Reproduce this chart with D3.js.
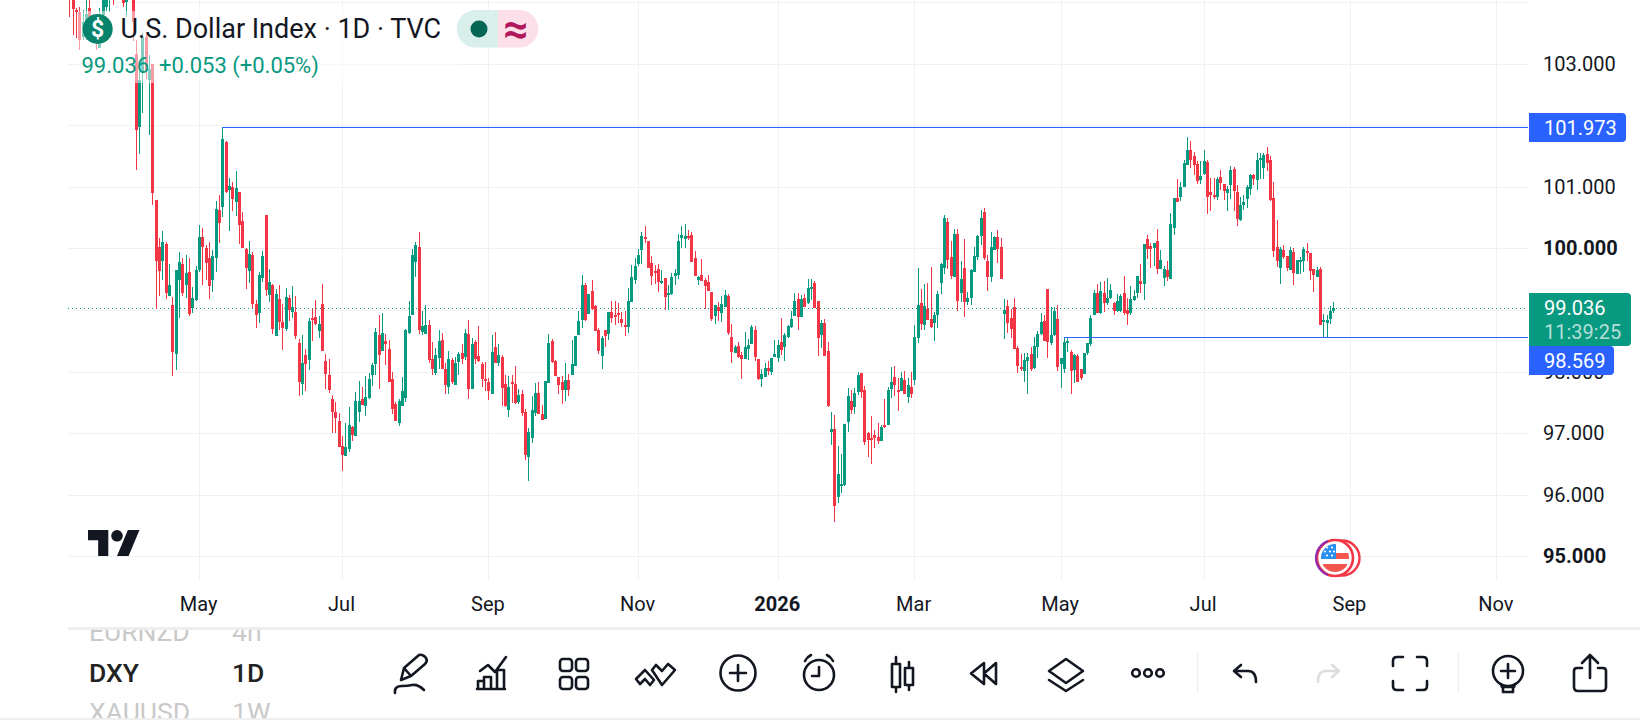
<!DOCTYPE html>
<html lang="en">
<head>
    <meta charset="UTF-8">
    <title>U.S. Dollar Index 1D</title>
    <script src="https://d3js.org/d3.v7.min.js"></script>
    <style>
        body { margin: 0; background-color: #fff; font-family: Roboto, Arial, sans-serif; }
        svg { display: block; }
        .grid line { stroke: #f0f1f3; stroke-width: 1; shape-rendering: crispEdges; }
        .axis text { font-family: Roboto, Arial, sans-serif; font-size: 20px; fill: #131722; }
        .axis path, .axis line { display: none; }
        .icon { fill: none; stroke: #131722; stroke-width: 2.6; stroke-linecap: round; stroke-linejoin: round; }
    </style>
</head>
<body>
    <div id="chart"></div>

    <script>
        // values, one bar per trading day, ten per line
        const opens = [
            104.5,104.6,103.87,103.83,103.43,103.49,103.9,103.45,103.6,103.26,
            103.79,103.92,104.1,104.35,104.4,104.5,104.3,104.0,104.25,104.4,
            103.15,101.97,102.84,103.43,102.73,102.99,100.78,100.02,99.8,100.07,
            99.23,99.08,98.29,99.48,99.75,99.41,99.62,99.04,99.16,99.65,
            100.19,100.0,99.84,99.49,99.84,100.63,100.67,101.73,100.95,100.99,
            100.75,100.92,100.44,99.99,99.63,99.89,99.1,98.95,99.52,100.54,
            99.24,99.41,98.58,99.18,98.81,98.69,99.19,98.97,98.97,98.46,
            97.8,98.27,98.19,98.87,98.89,98.66,99.1,98.17,97.95,97.55,
            97.34,97.2,96.79,96.63,96.74,97.1,96.95,97.34,97.55,97.44,
            97.57,97.94,98.12,98.59,98.33,98.5,98.37,97.88,97.47,97.17,
            97.44,97.57,98.63,98.92,99.78,100.02,98.64,98.61,98.76,98.2,
            97.98,98.22,98.51,98.04,97.75,98.19,97.78,98.15,98.3,98.24,
            98.61,97.72,98.48,98.25,98.12,97.88,97.83,97.64,98.4,98.14,
            98.24,97.8,97.38,97.83,97.8,97.51,97.64,97.34,96.61,96.92,
            97.33,97.65,97.31,97.23,97.82,98.5,98.17,97.91,97.83,97.7,
            97.86,97.95,98.09,98.59,98.84,99.41,98.93,99.31,99.07,98.67,
            98.25,98.67,98.61,98.97,98.92,98.95,98.85,98.76,98.72,99.13,
            99.49,99.75,99.97,100.19,100.12,99.76,99.63,99.67,99.45,99.52,
            99.24,99.26,99.55,99.57,100.17,100.15,100.2,100.22,99.84,99.49,
            99.57,99.49,99.45,99.29,98.9,99.05,98.95,99.05,99.23,98.56,
            98.3,98.42,98.27,98.2,98.37,98.45,98.67,98.2,97.88,97.91,
            98.06,98.0,98.24,98.22,98.48,98.4,98.56,98.72,98.9,99.18,
            98.89,99.19,99.11,99.36,99.44,99.15,98.59,98.79,98.33,97.02,
            97.07,95.96,96.16,96.16,97.18,97.52,97.43,97.67,97.98,97.7,
            97.0,96.92,96.97,96.94,96.87,97.13,97.13,97.72,97.91,97.7,
            97.69,97.86,97.59,97.75,97.86,98.54,99.11,98.75,99.02,98.85,
            98.79,98.92,99.44,99.68,100.43,99.86,99.53,100.23,99.27,99.68,
            99.13,99.19,99.62,99.86,100.2,100.59,99.79,99.53,99.97,100.18,
            100.02,98.93,99.06,98.87,99.05,98.38,98.07,98.01,98.17,98.29,
            98.06,98.4,98.61,98.82,99.34,98.46,98.59,98.85,98.12,98.04,
            98.46,98.32,98.03,98.25,98.04,97.96,98.3,98.45,98.92,99.27,
            98.95,99.27,99.11,99.19,99.11,98.98,98.98,99.28,99.0,98.95,
            99.16,99.28,99.47,99.42,100.15,100.04,100.01,100.12,99.67,99.52,
            99.65,99.5,100.33,100.82,100.83,101.0,101.35,101.6,101.5,101.37,
            101.11,101.21,101.4,100.91,100.87,100.83,101.16,101.05,100.9,101.03,
            101.29,100.91,100.46,100.7,100.8,100.96,101.19,101.11,101.43,101.3,
            101.53,101.44,100.82,100.02,99.68,99.97,99.88,99.65,99.94,99.58,
            99.8,99.8,99.96,99.92,99.67,99.54,99.67,98.82,98.79,98.85,98.983
        ];
        const highs = [
            104.6,104.8,103.9,103.92,103.87,104.1,104.1,103.8,103.75,103.9,
            104.3,104.4,104.4,104.5,104.7,104.6,104.4,104.3,104.5,104.5,
            103.38,103.0,103.5,103.5,103.14,103.0,100.78,100.17,100.28,100.1,
            99.75,99.21,99.65,99.94,99.84,99.89,99.84,99.37,99.71,100.38,
            100.33,100.06,100.1,99.97,100.77,100.86,101.973,101.75,101.14,101.07,
            101.25,100.92,100.59,100.0,100.12,99.94,99.16,99.62,99.96,100.54,
            99.67,99.42,99.34,99.41,99.1,99.36,99.24,99.39,99.23,98.53,
            98.59,98.37,98.87,99.02,99.16,98.9,99.42,98.29,98.21,97.62,
            97.51,97.33,96.95,97.17,97.43,97.12,97.67,97.85,97.75,97.93,
            97.98,98.14,98.71,98.92,98.95,98.61,98.51,98.0,97.5,97.55,
            97.91,98.69,99.15,99.99,100.1,100.27,98.98,99.08,98.84,98.48,
            98.38,98.67,98.63,98.14,98.33,98.22,98.24,98.32,98.45,98.69,
            98.84,98.55,98.52,98.74,98.16,98.15,97.9,98.59,98.64,98.45,
            98.27,97.94,97.93,97.94,98.09,97.72,97.7,97.39,97.08,97.6,
            97.81,97.83,97.46,97.85,98.61,98.53,98.19,97.91,97.93,98.14,
            97.96,98.51,98.58,98.98,99.57,99.44,99.26,99.49,99.08,98.71,
            98.58,98.67,98.97,99.15,99.15,99.11,98.97,98.98,99.36,99.73,
            99.84,99.99,100.27,100.36,100.12,99.88,99.73,99.75,99.65,99.52,
            99.41,99.6,99.66,100.23,100.36,100.4,100.3,100.27,99.96,99.56,
            99.83,99.52,99.57,99.29,99.08,99.13,99.23,99.32,99.26,98.77,
            98.43,98.48,98.32,98.64,98.53,98.76,98.74,98.2,98.04,98.14,
            98.18,98.22,98.51,98.51,98.87,98.63,98.76,98.98,99.28,99.28,
            99.24,99.26,99.5,99.5,99.47,99.15,98.84,98.85,98.48,97.34,
            97.29,96.79,96.66,97.15,97.73,97.7,97.73,97.99,97.98,97.77,
            97.02,97.28,97.05,97.17,97.13,97.55,97.75,98.07,98.09,97.9,
            97.99,98.01,97.9,97.99,98.76,99.68,99.34,99.42,99.44,99.7,
            98.97,99.31,99.76,100.54,100.49,100.12,100.31,100.31,99.8,100.15,
            99.3,99.66,100.02,100.22,100.62,100.66,99.89,100.27,100.2,100.3,
            100.17,99.18,99.16,99.02,99.19,98.42,98.29,98.3,98.3,98.4,
            98.56,98.66,98.95,98.92,99.34,99.05,99.05,99.08,98.22,98.54,
            98.56,98.35,98.29,98.29,98.04,98.3,98.46,98.92,99.32,99.42,
            99.45,99.47,99.52,99.42,99.13,99.26,99.26,99.55,99.19,99.39,
            99.32,99.55,99.75,100.07,100.22,100.09,100.09,100.31,99.97,99.71,
            99.79,100.57,100.82,101.13,101.08,101.43,101.81,101.74,101.56,101.42,
            101.42,101.6,101.43,101.14,101.14,101.16,101.27,101.05,101.01,101.34,
            101.32,101.03,100.83,100.87,101.03,101.21,101.21,101.55,101.55,101.55,
            101.65,101.5,101.08,100.46,100.02,100.05,99.88,100.02,100.0,99.81,
            99.86,100.02,100.09,99.92,99.67,99.7,99.7,98.93,98.92,99.06,99.13
        ];
        const lows = [
            103.76,103.46,103.41,103.22,103.38,103.38,103.4,103.35,103.22,103.25,
            103.7,103.85,103.84,103.95,104.25,104.2,103.92,103.76,104.1,103.37,
            101.27,101.54,102.19,102.75,101.84,100.7,99.02,99.22,99.49,99.18,
            99.23,97.93,98.03,98.87,99.23,99.2,98.9,98.95,99.15,99.62,
            99.41,99.49,99.18,99.29,99.62,100.09,100.51,100.9,100.29,100.6,
            100.53,100.07,100.0,99.34,99.44,99.03,98.71,98.79,99.45,99.23,
            99.13,98.61,98.58,98.68,98.35,98.66,98.82,98.87,98.53,97.6,
            97.62,97.69,98.03,98.5,98.76,98.55,98.33,97.72,97.65,97.0,
            97.0,96.78,96.39,96.63,96.69,96.87,96.95,97.18,97.46,97.28,
            97.55,97.77,97.95,97.72,98.33,98.11,97.83,97.31,97.2,97.12,
            97.44,97.51,98.61,98.92,99.54,98.61,98.59,98.61,98.14,97.95,
            97.95,98.04,98.04,97.64,97.64,97.8,97.78,97.95,98.12,98.19,
            97.56,97.72,98.12,98.16,97.75,97.68,97.54,97.64,98.14,98.09,
            97.44,97.43,97.26,97.49,97.47,97.48,97.28,96.57,96.23,96.84,
            97.28,97.31,97.21,97.23,97.82,98.14,97.93,97.64,97.47,97.52,
            97.6,97.95,98.09,98.59,98.71,98.82,98.93,99.0,98.66,98.29,
            98.04,98.4,98.51,98.79,98.76,98.79,98.72,98.58,98.63,99.13,
            99.42,99.71,99.75,100.09,99.68,99.41,99.42,99.29,99.43,99.0,
            99.0,99.25,99.41,99.5,100.0,100.0,100.13,99.78,99.55,99.41,
            99.47,99.02,99.31,98.82,98.77,98.82,98.8,99.05,98.6,98.14,
            98.3,98.22,97.88,98.2,98.19,98.44,98.17,97.86,97.75,97.91,
            97.95,97.95,98.23,98.15,98.27,98.17,98.55,98.71,98.9,98.67,
            98.88,99.05,99.1,99.16,99.03,98.25,98.38,98.25,97.43,96.81,
            95.56,95.87,96.03,96.15,97.02,97.31,97.31,97.62,97.57,96.81,
            96.61,96.5,96.76,96.82,96.87,97.08,97.13,97.57,97.6,97.36,
            97.68,97.64,97.49,97.57,97.78,98.46,98.67,98.67,98.84,98.71,
            98.5,98.71,99.26,99.58,99.67,99.5,99.53,98.98,99.13,98.89,
            99.08,99.08,99.61,99.81,100.05,99.81,99.31,99.45,99.97,99.76,
            99.5,98.53,98.63,98.55,98.37,97.98,98.01,97.83,97.64,98.01,
            98.05,98.22,98.6,98.5,98.22,98.43,98.58,98.01,97.73,97.98,
            98.32,97.64,97.81,97.83,97.86,97.96,98.27,98.42,98.92,98.95,
            98.94,98.97,99.08,99.18,98.92,98.97,98.97,98.92,98.76,98.92,
            99.15,99.19,99.28,99.16,99.83,99.68,99.71,99.58,99.66,99.39,
            99.47,99.5,100.22,100.75,100.77,101.0,101.35,101.3,101.19,101.05,
            101.05,101.19,100.56,100.61,100.81,100.79,100.95,100.79,100.61,100.8,
            100.61,100.36,100.44,100.62,100.65,100.87,101.03,100.95,101.13,101.13,
            101.26,100.77,99.86,99.7,99.42,99.83,99.63,99.65,99.4,99.58,
            99.58,99.62,99.8,99.49,99.29,99.54,98.76,98.569,98.569,98.77,98.95
        ];
        const closes = [
            104.2,103.88,103.83,103.38,103.68,103.81,103.6,103.7,103.35,103.49,
            104.1,104.2,104.25,104.15,104.5,104.35,103.99,104.2,104.4,103.68,
            101.92,102.73,103.43,102.89,102.91,100.9,99.79,99.64,100.1,99.27,
            99.41,98.32,99.65,99.78,99.28,99.6,98.94,99.2,99.65,100.19,
            100.02,99.76,99.39,99.88,100.64,100.42,101.77,100.92,101.01,100.8,
            100.98,100.38,100.0,99.68,99.91,99.1,98.92,99.57,99.88,99.33,
            99.45,98.69,99.26,98.81,98.71,99.21,99.0,99.05,98.58,97.83,
            98.14,98.12,98.82,98.84,98.77,98.77,98.33,97.96,97.7,97.34,
            97.25,96.78,96.65,96.78,97.13,96.97,97.52,97.52,97.46,97.59,
            97.88,98.11,98.64,98.27,98.63,98.45,97.83,97.39,97.2,97.52,
            97.69,98.67,98.9,99.89,100.06,98.67,98.74,98.76,98.19,98.04,
            98.27,98.5,98.04,97.78,98.2,97.83,98.14,98.29,98.2,98.63,
            97.72,98.45,98.2,98.17,97.88,97.86,97.69,98.32,98.14,98.27,
            97.73,97.44,97.75,97.8,97.49,97.62,97.33,96.65,97.02,97.38,
            97.65,97.31,97.21,97.85,98.46,98.16,97.93,97.78,97.7,97.86,
            97.7,98.12,98.58,98.82,99.41,98.84,99.26,99.02,98.66,98.33,
            98.55,98.58,98.97,98.87,98.9,98.93,98.79,98.74,99.15,99.54,
            99.71,99.89,100.2,100.15,99.68,99.55,99.62,99.45,99.47,99.21,
            99.27,99.54,99.6,100.12,100.22,100.2,100.19,99.78,99.55,99.54,
            99.47,99.39,99.31,98.85,99.08,98.98,99.1,99.24,98.63,98.32,
            98.4,98.24,98.2,98.4,98.43,98.72,98.24,97.88,97.96,98.06,
            98.01,98.22,98.29,98.43,98.35,98.59,98.74,98.85,99.15,98.89,
            99.18,99.05,99.36,99.37,99.03,98.55,98.79,98.25,97.44,97.07,
            95.82,96.34,96.17,97.15,97.6,97.38,97.65,97.94,97.67,96.86,
            96.89,96.9,96.92,96.87,97.1,97.1,97.7,97.83,97.78,97.69,
            97.9,97.64,97.78,97.64,98.56,99.08,98.77,99.06,98.84,98.72,
            98.92,99.26,99.75,100.49,99.81,99.55,100.23,99.15,99.5,99.13,
            99.19,99.65,99.88,100.2,100.49,99.84,99.53,100.02,100.18,99.99,
            99.5,99.0,98.79,98.69,98.37,98.09,98.04,98.19,98.24,98.04,
            98.41,98.61,98.8,98.5,98.48,98.59,98.98,98.07,98.22,98.48,
            98.5,98.01,98.27,97.83,97.9,98.3,98.46,98.87,99.27,98.95,
            99.31,99.11,99.19,99.32,98.99,99.14,99.23,98.95,98.93,99.18,
            99.23,99.55,99.42,100.07,99.99,99.99,100.09,99.67,99.81,99.67,
            99.54,100.4,100.82,100.75,101.0,101.39,101.6,101.43,101.35,101.09,
            101.17,101.42,100.83,100.87,100.85,101.13,101.06,100.93,100.96,101.27,
            100.93,100.48,100.7,100.75,101.0,101.19,101.13,101.43,101.47,101.52,
            101.39,100.79,99.96,99.8,99.99,99.86,99.68,99.97,99.6,99.81,
            99.81,99.99,99.94,99.63,99.57,99.65,98.76,98.84,98.84,98.98,99.036
        ];

        const priceTicks = [95, 96, 97, 98, 99, 100, 101, 102, 103];
        const boldPrices = [95, 100];
        const timeTickBars = [39, 82, 126, 171, 213, 254, 298, 341, 385, 429];
        const timeTickLabels = ['May', 'Jul', 'Sep', 'Nov', '2026', 'Mar', 'May', 'Jul', 'Sep', 'Nov'];

        // horizontal rays the user drew: [start bar, price]
        const upperRay = [46, 101.973];
        const lowerRay = [299, 98.569];
        const lastPrice = 99.036;

        const watchlist = [
            { symbol: 'EURNZD', tf: '4h', base: 641, color: '#c9c9c9', weight: 400 },
            { symbol: 'DXY', tf: '1D', base: 682, color: '#222', weight: 500 },
            { symbol: 'XAUUSD', tf: '1W', base: 721, color: '#c9c9c9', weight: 400 }
        ];

        const UP = '#089981';
        const DOWN = '#F23645';
        const BLUE = '#2962FF';

        const svg = d3.select('#chart').append('svg')
            .attr('width', 1640)
            .attr('height', 720);

        const x = d3.scaleLinear().domain([0, 380]).range([69.3, 1333.3]);
        const y = d3.scaleLinear().domain([95, 104]).range([556.4, 2]);

        const defs = svg.append('defs');
        defs.append('clipPath').attr('id', 'pane')
            .append('rect').attr('x', 68).attr('y', 0).attr('width', 1460).attr('height', 580);
        defs.append('clipPath').attr('id', 'list')
            .append('rect').attr('x', 0).attr('y', 630).attr('width', 360).attr('height', 88);
        defs.append('clipPath').attr('id', 'flag')
            .append('circle').attr('cx', 1335).attr('cy', 558).attr('r', 14);

        // grid
        const grid = svg.append('g').attr('class', 'grid');
        grid.selectAll('.h').data(priceTicks.concat([104])).enter().append('line')
            .attr('x1', 68).attr('x2', 1528)
            .attr('y1', d => Math.round(y(d)) + 0.5).attr('y2', d => Math.round(y(d)) + 0.5);
        grid.selectAll('.v').data(timeTickBars).enter().append('line')
            .attr('y1', 0).attr('y2', 580)
            .attr('x1', d => Math.round(x(d)) + 0.5).attr('x2', d => Math.round(x(d)) + 0.5);

        const pane = svg.append('g').attr('clip-path', 'url(#pane)');

        // last price dotted line sits under the candles
        pane.append('line')
            .attr('x1', 68).attr('x2', 1528)
            .attr('y1', Math.round(y(lastPrice)) + 0.5).attr('y2', Math.round(y(lastPrice)) + 0.5)
            .attr('stroke', UP).attr('stroke-dasharray', '1 3');

        // candles
        const bars = d3.range(opens.length);
        const colorOf = i => closes[i] < opens[i] ? DOWN : UP;
        const candles = pane.append('g').attr('shape-rendering', 'crispEdges');

        candles.selectAll('.wick').data(bars).enter().append('rect')
            .attr('class', 'wick')
            .attr('x', i => Math.round(x(i)))
            .attr('width', 1)
            .attr('y', i => Math.round(y(highs[i])))
            .attr('height', i => Math.max(1, Math.round(y(lows[i])) - Math.round(y(highs[i]))))
            .attr('fill', colorOf);

        candles.selectAll('.body').data(bars).enter().append('rect')
            .attr('class', 'body')
            .attr('x', i => Math.round(x(i)) - 1)
            .attr('width', 3)
            .attr('y', i => Math.round(y(Math.max(opens[i], closes[i]))))
            .attr('height', i => Math.max(2, Math.round(y(Math.min(opens[i], closes[i]))) - Math.round(y(Math.max(opens[i], closes[i])))))
            .attr('fill', colorOf);

        // drawn rays
        [upperRay, lowerRay].forEach(r => {
            pane.append('line')
                .attr('x1', x(r[0])).attr('x2', 1528)
                .attr('y1', Math.round(y(r[1])) + 0.5).attr('y2', Math.round(y(r[1])) + 0.5)
                .attr('stroke', BLUE).attr('stroke-width', 1);
        });

        // axes
        const priceAxis = d3.axisRight(y).tickValues(priceTicks).tickSize(0).tickPadding(0).tickFormat(d3.format('.3f'));
        svg.append('g').attr('class', 'axis').attr('transform', 'translate(1543,0)').call(priceAxis)
            .selectAll('text')
            .style('font-weight', d => boldPrices.includes(d) ? 700 : 400);

        const timeAxis = d3.axisBottom(x).tickValues(timeTickBars).tickSize(0).tickPadding(0)
            .tickFormat((d, i) => timeTickLabels[i]);
        svg.append('g').attr('class', 'axis').attr('transform', 'translate(-1,597)').call(timeAxis)
            .selectAll('text')
            .style('font-weight', (d, i) => timeTickLabels[i] === '2026' ? 700 : 400);

        // price labels on the scale
        function priceLabel(top, h, right, color) {
            svg.append('path')
                .attr('d', `M1529 ${top} H${right - 4} Q${right} ${top} ${right} ${top + 4} V${top + h - 4} Q${right} ${top + h} ${right - 4} ${top + h} H1529 Z`)
                .attr('fill', color);
        }
        function labelText(t, yy, color) {
            svg.append('text').attr('x', 1544).attr('y', yy).attr('dy', '0.35em')
                .attr('font-size', 20).attr('fill', color).text(t);
        }
        priceLabel(113, 29, 1626, BLUE);
        labelText('101.973', 127.5, '#fff');
        priceLabel(346, 29, 1614, BLUE);
        labelText('98.569', 360.5, '#fff');
        priceLabel(293, 53, 1631, UP);
        labelText('99.036', 308, '#fff');
        labelText('11:39:25', 331.5, 'rgba(255,255,255,0.7)');

        // legend sits on a half transparent strip over the candles
        svg.append('rect').attr('x', 78).attr('y', 11).attr('width', 380).attr('height', 72)
            .attr('fill', '#fff').attr('opacity', 0.5);
        svg.append('circle').attr('cx', 97.7).attr('cy', 29).attr('r', 15).attr('fill', '#07826b');
        svg.append('text').attr('x', 97.7).attr('y', 37).attr('text-anchor', 'middle')
            .attr('font-size', 23).attr('font-weight', 700).attr('fill', '#fff').text('$');
        svg.append('text').attr('x', 120.5).attr('y', 38)
            .attr('font-size', 27).attr('fill', '#131722').text('U.S. Dollar Index · 1D · TVC');
        svg.append('text').attr('x', 81.5).attr('y', 73)
            .attr('font-size', 22).attr('fill', UP)
            .text('99.036');
        svg.append('text').attr('x', 159).attr('y', 73)
            .attr('font-size', 22).attr('fill', UP).text('+0.053 (+0.05%)');

        // status pill
        svg.append('path').attr('d', 'M498 10 H475.5 A18.8 18.8 0 0 0 475.5 47.6 H498 Z').attr('fill', '#d8efeb');
        svg.append('path').attr('d', 'M498 10 H519.5 A18.8 18.8 0 0 1 519.5 47.6 H498 Z').attr('fill', '#fcdfe8');
        svg.append('circle').attr('cx', 479).attr('cy', 29).attr('r', 8.5).attr('fill', '#056656');
        svg.append('text').attr('x', 516).attr('y', 44).attr('text-anchor', 'middle')
            .attr('font-size', 44).attr('font-weight', 700).attr('fill', '#b0185c').text('≈');

        // tradingview mark
        const logo = svg.append('g').attr('transform', 'translate(88,524.2) scale(1.45)').attr('fill', '#131722');
        logo.append('path').attr('d', 'M14 22H7V11H0V4h14v18zM28 22h-8l7.5-18h8L28 22z');
        logo.append('circle').attr('cx', 20).attr('cy', 8).attr('r', 4);

        // economic event badge
        const badge = svg.append('g');
        badge.append('circle').attr('cx', 1342).attr('cy', 558).attr('r', 17.5).attr('fill', '#fff').attr('stroke', DOWN).attr('stroke-width', 2.4);
        badge.append('circle').attr('cx', 1335).attr('cy', 558).attr('r', 18).attr('fill', '#fff').attr('stroke', DOWN).attr('stroke-width', 2.6);
        badge.append('path').attr('d', 'M1328 541 A18 18 0 0 0 1328 575').attr('fill', 'none').attr('stroke', '#8e2bb0').attr('stroke-width', 2);
        const flag = badge.append('g').attr('clip-path', 'url(#flag)');
        flag.append('rect').attr('x', 1321).attr('y', 544).attr('width', 28).attr('height', 28).attr('fill', '#fff');
        flag.append('rect').attr('x', 1335).attr('y', 553).attr('width', 14).attr('height', 6).attr('fill', '#f2564f');
        flag.append('rect').attr('x', 1321).attr('y', 564).attr('width', 28).attr('height', 8).attr('fill', '#f2564f');
        flag.append('rect').attr('x', 1321).attr('y', 544).attr('width', 15).attr('height', 15).attr('fill', '#2b8ff0');
        [[1327, 547.5], [1332, 547.5], [1325, 551.5], [1330, 551.5], [1334, 551.5], [1327, 555.5], [1332, 555.5]].forEach(p => {
            flag.append('circle').attr('cx', p[0]).attr('cy', p[1]).attr('r', 1.1).attr('fill', '#fff');
        });

        // panel separators
        svg.append('rect').attr('x', 68).attr('y', 627).attr('width', 1572).attr('height', 3).attr('fill', '#eeeeee');
        svg.append('rect').attr('x', 0).attr('y', 718).attr('width', 1640).attr('height', 2).attr('fill', '#efefef');

        // watchlist rows, cut off by the panel
        const list = svg.append('g').attr('clip-path', 'url(#list)');
        watchlist.forEach(w => {
            list.append('text').attr('x', 89).attr('y', w.base).attr('font-size', 26.5)
                .attr('font-weight', w.weight).attr('fill', w.color).text(w.symbol);
            list.append('text').attr('x', 232).attr('y', w.base).attr('font-size', 26.5)
                .attr('font-weight', w.weight).attr('fill', w.color).text(w.tf);
        });

        // toolbar icons
        const icons = svg.append('g').attr('class', 'icon');
        const icon = d => icons.append('path').attr('d', d);

        // pencil
        icon('M401 680 L404 668 L419 655 Q423 654 426 658 Q428 661 425 664 L411 676 Z M404 668 L411 676');
        icon('M395 693 Q394 686 402 686 Q408 686 412 685 Q418 684 424 690');
        // indicators
        icon('M480 671 L488 665 L495 672 L506 657');
        icon('M478 689 V681 H484 V689 M484 689 V677 H491 V689 M497 689 V670 H504 V689 M477 689 H505');
        // layouts
        [[560, 659], [576, 659], [560, 677], [576, 677]].forEach(p => {
            icons.append('rect').attr('x', p[0]).attr('y', p[1]).attr('width', 12).attr('height', 12).attr('rx', 3);
        });
        // drawings
        icon('M636 679 L645 670 L654 680 L650 685 L645 679 L640 684 Z');
        icon('M652 670 L656 665 L662 671 L668 664 L675 670 L662 685 Z');
        // add
        icons.append('circle').attr('cx', 738).attr('cy', 673).attr('r', 17.5);
        icon('M738 665 V681 M730 673 H746');
        // alarm
        icons.append('circle').attr('cx', 819).attr('cy', 675).attr('r', 15);
        icon('M819 667 V676 H812 M805 661 Q807 657 811 655 M827 655 Q831 657 833 661');
        // bar style
        icon('M892 664 H900 V687 H892 Z M896 657 V664 M896 687 V692');
        icon('M905 668 H913 V685 H905 Z M909 662 V668 M909 685 V690');
        // replay
        icon('M984 663 L971 673.5 L984 684 Z M996 663 L984 673.5 L996 684 Z');
        // layers
        icon('M1066 659 L1083 671 L1066 683 L1049 671 Z M1049 680 L1066 691 L1083 680');
        // more
        [1136, 1148, 1160].forEach(cx => {
            icons.append('circle').attr('cx', cx).attr('cy', 673).attr('r', 3.8);
        });
        // undo
        icon('M1241 665 L1234 671 L1241 677 M1234 671 H1248 Q1256 671 1256 682');
        // redo is disabled
        icons.append('path').attr('d', 'M1332 665 L1339 671 L1332 677 M1339 671 H1326 Q1318 671 1318 682').style('stroke', '#dddddd');
        // fullscreen
        icon('M1393 666 V661 Q1393 657 1397 657 H1403 M1417 657 H1423 Q1427 657 1427 661 V666 M1427 681 V686 Q1427 690 1423 690 H1417 M1403 690 H1397 Q1393 690 1393 686 V681');
        // ideas
        icons.append('circle').attr('cx', 1508).attr('cy', 671).attr('r', 15);
        icon('M1508 664 V678 M1501 671 H1515 M1501 684 L1502 687 H1514 L1515 684 M1503 687 V692 H1513 V687');
        // share
        icon('M1582 663 L1590 655 L1598 663 M1590 655 V678 M1582 668 H1577 Q1574 668 1574 671 V687 Q1574 691 1578 691 H1602 Q1606 691 1606 687 V671 Q1606 668 1603 668 H1598');

        // toolbar dividers
        [1197, 1458].forEach(xx => {
            svg.append('rect').attr('x', xx).attr('y', 653).attr('width', 1).attr('height', 40).attr('fill', '#eeeeee');
        });
    </script>
</body>
</html>
